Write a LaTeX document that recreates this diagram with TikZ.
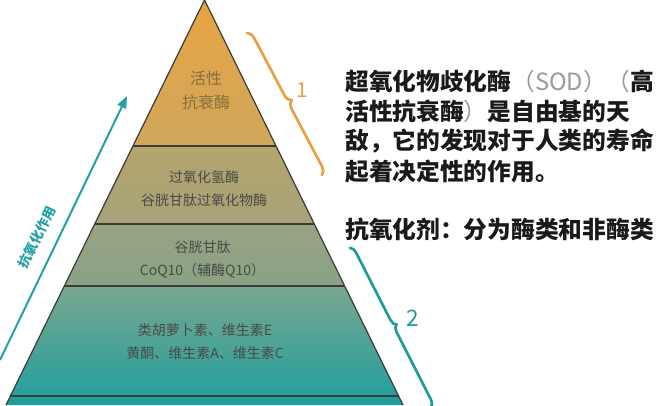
\documentclass[tikz,border=0pt]{standalone}
\usepackage{fontspec}
\newfontfamily\cjk{Noto Sans CJK SC}
\usetikzlibrary{arrows.meta, decorations.pathreplacing}
\definecolor{apexorange}{HTML}{E9A443}
\definecolor{tanone}{HTML}{CFA75C}
\definecolor{tantwo}{HTML}{B5A46C}
\definecolor{olivetwo}{HTML}{A6A27A}
\definecolor{sagethree}{HTML}{98A383}
\definecolor{sagebot}{HTML}{8AA286}
\definecolor{greenfour}{HTML}{7AA68F}
\definecolor{tealfour}{HTML}{25A09D}
\definecolor{tealbase}{HTML}{1F9E9D}
\definecolor{edgegray}{HTML}{3A3A36}
\definecolor{labelgray}{HTML}{4A4A44}
\definecolor{toptext}{HTML}{86703F}
\definecolor{braceorange}{HTML}{E9A040}
\definecolor{braceteal}{HTML}{1E9C9C}
\definecolor{arrowteal}{HTML}{22A2A5}
\definecolor{parengray}{HTML}{9A9A9A}
\definecolor{inkblack}{HTML}{1A1A1A}
\begin{document}
\begin{tikzpicture}[x=0.75pt,y=0.75pt]
\tikzstyle{every node}+=[inner sep=0pt]
\tikzstyle{layerline}=[draw=edgegray, line width=0.9pt]
\tikzstyle{layerlabel}=[align=center, text=labelgray, font=\cjk\fontsize{10.5}{17.25}\selectfont]
\tikzstyle{sidetext}=[anchor=base west, text=inkblack, font=\cjk\bfseries\fontsize{17.8}{22}\selectfont]
\tikzstyle{bracestyle}=[decorate, line width=2pt, line cap=round]
\useasboundingbox (0,0) rectangle (670,-405);
\clip (0,0) rectangle (670,-405);
\fill [white] (0,0) rectangle (670,-405);
% corners of the pyramid
\coordinate (apex) at (204.5,0);
\coordinate (l1) at (133,-146);
\coordinate (r1) at (276,-146);
\coordinate (l2) at (94.7,-224);
\coordinate (r2) at (314.3,-224);
\coordinate (l3) at (64.4,-286);
\coordinate (r3) at (344.6,-286);
\coordinate (l4) at (10.5,-396);
\coordinate (r4) at (398.5,-396);
\coordinate (l5) at (6,-405);
\coordinate (r5) at (403,-405);
% layers
\shade [top color=apexorange, bottom color=tanone] (apex) -- (r1) -- (l1) -- cycle;
\shade [top color=tantwo, bottom color=olivetwo] (l1) -- (r1) -- (r2) -- (l2) -- cycle;
\shade [top color=sagethree, bottom color=sagebot] (l2) -- (r2) -- (r3) -- (l3) -- cycle;
\shade [top color=greenfour, bottom color=tealfour] (l3) -- (r3) -- (r4) -- (l4) -- cycle;
\fill [tealbase] (l4) -- (r4) -- (r5) -- (l5) -- cycle;
\draw [layerline] (l5) -- (apex) -- (r5);
\draw [layerline] (l1) -- (r1);
\draw [layerline] (l2) -- (r2);
\draw [layerline] (l3) -- (r3);
\draw [layerline] (l4) -- (r4);
% layer texts
\node [layerlabel, text=toptext, font=\cjk\fontsize{12}{18}\selectfont] (active) at (206,-90) {活性\\抗衰酶};
\node [layerlabel] (peroxidase) at (204,-188.5) {过氧化氢酶\\谷胱甘肽过氧化物酶};
\node [layerlabel] (glutathione) at (202.5,-259) {谷胱甘肽\\CoQ10（辅酶Q10）};
\node [layerlabel] (vitamins) at (205,-342) {类胡萝卜素、维生素E\\黄酮、维生素A、维生素C};
% braces
\coordinate (b1top) at (247,-33);
\coordinate (b1bot) at (322,-175);
\draw [bracestyle, draw=braceorange, decoration={brace, amplitude=6pt}] (b1top) -- (b1bot);
\node [text=braceorange, font=\cjk\fontsize{15.5}{16}\selectfont] (one) at (302,-90) {1};
\coordinate (b2top) at (350,-248);
\coordinate (b2bot) at (431,-407);
\draw [bracestyle, draw=braceteal, decoration={brace, amplitude=5pt}] (b2top) -- (b2bot);
\node [text=braceteal, font=\cjk\fontsize{17}{17}\selectfont] (two) at (413,-318) {2};
% rising arrow
\coordinate (arrtail) at (0,-360);
\coordinate (arrhead) at (127,-96);
\draw [-{Triangle[length=9pt,width=7pt]}, line width=1.5pt, draw=arrowteal] (arrtail) -- (arrhead);
\node [rotate=64, text=arrowteal, font=\cjk\bfseries\fontsize{10}{10}\selectfont] (axis) at (37,-237) {抗氧化作用};
% text on the right
\node [sidetext] (p1) at (345,-90.5) {超氧化物歧化酶{\color{parengray}\mdseries（SOD）（}高};
\node [sidetext] (p2) at (345,-120.5) {活性抗衰酶{\color{parengray}\mdseries）}是自由基的天};
\node [sidetext] (p3) at (345,-149) {敌，它的发现对于人类的寿命};
\node [sidetext] (p4) at (345,-180.5) {起着决定性的作用。};
\node [sidetext] (p5) at (345,-238.5) {抗氧化剂：分为酶类和非酶类};
\end{tikzpicture}
\end{document}
